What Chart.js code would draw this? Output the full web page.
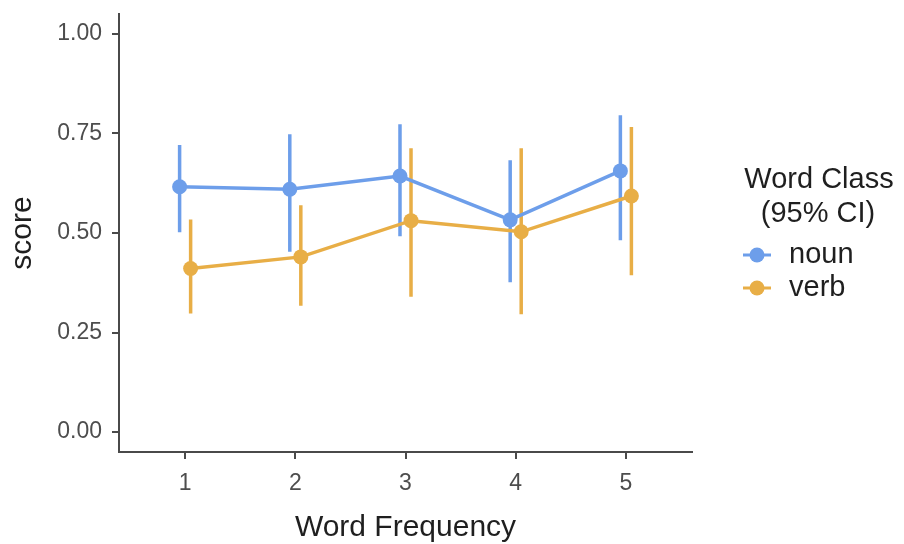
<!DOCTYPE html>
<html>
<head>
<meta charset="utf-8">
<script src="https://cdn.jsdelivr.net/npm/chart.js@4/dist/chart.umd.min.js"></script>
<style>
  html, body { margin: 0; padding: 0; background: #fff; }
  #wrap { width: 904px; height: 544px; }
</style>
</head>
<body>
<div id="wrap"><canvas id="c" width="904" height="544"></canvas></div>
<script>
// ---- data ----
const categories = [1, 2, 3, 4, 5];
const seriesNames = ['noun', 'verb'];
const nounMean = [0.616, 0.610, 0.643, 0.533, 0.656];
const nounLo   = [0.502, 0.453, 0.492, 0.376, 0.482];
const nounHi   = [0.721, 0.748, 0.773, 0.683, 0.796];
const verbMean = [0.411, 0.440, 0.531, 0.503, 0.593];
const verbLo   = [0.298, 0.317, 0.340, 0.296, 0.394];
const verbHi   = [0.534, 0.570, 0.713, 0.713, 0.766];
const yTicks = [0, 0.25, 0.5, 0.75, 1.0];
const legendTitle = ['Word Class', '(95% CI)'];

// ---- style ----
const DODGE = 0.05;
const BLUE = '#6d9eea';
const ORANGE = '#e8ae46';
const FONT = "'Liberation Sans', Arial, sans-serif";
const AXIS_COLOR = '#4a4a4a';

function pts(mean, off) {
  return categories.map((c, i) => ({ x: c + off, y: mean[i] }));
}
function errPts(lo, hi, off) {
  const out = [];
  categories.forEach((c, i) => {
    out.push({ x: c + off, y: lo[i] });
    out.push({ x: c + off, y: hi[i] });
    out.push({ x: c + off, y: null });
  });
  return out;
}

const legendPlugin = {
  id: 'ggLegend',
  afterDraw(chart) {
    const ctx = chart.ctx;
    ctx.save();
    ctx.fillStyle = '#1f1f1f';
    ctx.font = '29px ' + FONT;
    ctx.textAlign = 'center';
    ctx.textBaseline = 'middle';
    ctx.fillText(legendTitle[0], 819, 180);
    ctx.fillText(legendTitle[1], 818, 214);
    const items = [{ name: seriesNames[0], color: BLUE, y: 255 }, { name: seriesNames[1], color: ORANGE, y: 288 }];
    items.forEach(it => {
      ctx.strokeStyle = it.color;
      ctx.lineWidth = 3;
      ctx.beginPath();
      ctx.moveTo(743, it.y);
      ctx.lineTo(771, it.y);
      ctx.stroke();
      ctx.fillStyle = it.color;
      ctx.beginPath();
      ctx.arc(757, it.y, 7.5, 0, Math.PI * 2);
      ctx.fill();
      ctx.fillStyle = '#1f1f1f';
      ctx.textAlign = 'left';
      ctx.fillText(it.name, 789, it.y);
    });
    ctx.restore();
  }
};

new Chart(document.getElementById('c'), {
  type: 'line',
  data: {
    datasets: [
      { label: 'noun CI', data: errPts(nounLo, nounHi, -DODGE), borderColor: BLUE, borderWidth: 3.5, pointRadius: 0, spanGaps: false, borderCapStyle: 'butt', order: 4 },
      { label: 'verb CI', data: errPts(verbLo, verbHi, DODGE), borderColor: ORANGE, borderWidth: 3.5, pointRadius: 0, spanGaps: false, borderCapStyle: 'butt', order: 3 },
      { label: 'noun', data: pts(nounMean, -DODGE), borderColor: BLUE, backgroundColor: BLUE, borderWidth: 3.5, pointRadius: 7.5, pointBorderWidth: 0, order: 2 },
      { label: 'verb', data: pts(verbMean, DODGE), borderColor: ORANGE, backgroundColor: ORANGE, borderWidth: 3.5, pointRadius: 7.5, pointBorderWidth: 0, order: 1 }
    ]
  },
  options: {
    responsive: false,
    animation: false,
    layout: { padding: { left: 0, right: 212, top: 14, bottom: 0 } },
    plugins: { legend: { display: false }, tooltip: { enabled: false } },
    scales: {
      x: {
        type: 'linear',
        min: 0.4, max: 5.6,
        afterBuildTicks: s => { s.ticks = categories.map(v => ({ value: v })); },
        afterFit: s => { s.height = 92; s.paddingLeft = 0; s.paddingRight = 0; },
        grid: { drawOnChartArea: false, drawTicks: true, tickLength: 7, color: AXIS_COLOR, lineWidth: 2 },
        border: { display: true, color: AXIS_COLOR, width: 2 },
        ticks: { color: '#4d4d4d', font: { family: FONT, size: 23 }, padding: 11, maxRotation: 0, callback: v => String(v) },
        title: { display: true, text: 'Word Frequency', color: '#1f1f1f', font: { family: FONT, size: 30 }, padding: { top: 0, bottom: -2 } }
      },
      y: {
        type: 'linear',
        min: -0.05, max: 1.05,
        afterBuildTicks: s => { s.ticks = yTicks.map(v => ({ value: v })); },
        afterFit: s => { s.width = 119; s.paddingTop = 0; s.paddingBottom = 0; },
        grid: { drawOnChartArea: false, drawTicks: true, tickLength: 7, color: AXIS_COLOR, lineWidth: 2 },
        border: { display: true, color: AXIS_COLOR, width: 2 },
        ticks: { color: '#4d4d4d', font: { family: FONT, size: 23 }, padding: 10, callback: v => Number(v).toFixed(2) },
        title: { display: true, text: 'score', color: '#1f1f1f', font: { family: FONT, size: 30 }, padding: { top: 5, bottom: 0 } }
      }
    }
  },
  plugins: [legendPlugin]
});
</script>
</body>
</html>
